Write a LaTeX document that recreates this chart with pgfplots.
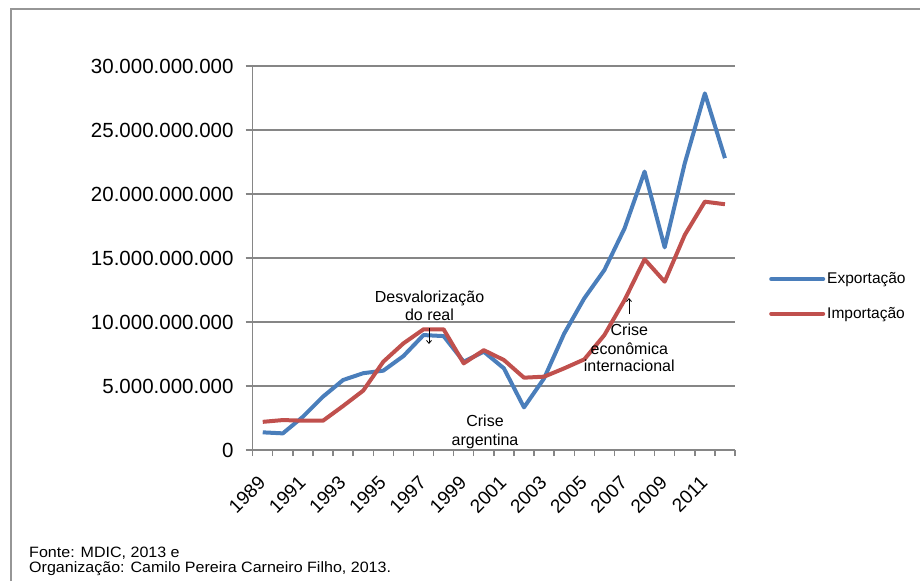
\documentclass[border=0pt]{standalone}
\usepackage{pgfplots}
\pgfplotsset{compat=1.18}
\usetikzlibrary{arrows.meta}
\usepackage{fontspec}
\setmainfont{Liberation Sans}
\definecolor{expblue}{RGB}{74,126,187}
\definecolor{impred}{RGB}{192,80,77}
\definecolor{gridgray}{RGB}{134,134,134}
\definecolor{framegray}{RGB}{150,150,150}
\begin{document}
\begin{tikzpicture}
\useasboundingbox (0,0) rectangle (920pt,-581pt);
\draw[framegray, line width=1.2pt] (11pt,-581pt) -- (11pt,-9pt) -- (920pt,-9pt);
\begin{axis}[
  at={(252.7pt,-450pt)}, anchor=south west,
  scale only axis, width=482.3pt, height=384pt,
  xmin=-0.5, xmax=23.5, ymin=0, ymax=30,
  axis x line*=bottom, axis y line*=left,
  axis line style={gridgray, line width=1.4pt},
  xtick={0,2,...,22},
  xticklabels={1989,1991,1993,1995,1997,1999,2001,2003,2005,2007,2009,2011},
  minor xtick={-0.5,0.5,...,23.5},
  major x tick style={draw=none},
  minor x tick style={gridgray, line width=1.4pt},
  minor tick length=6pt,
  tick align=outside,
  ytick={0,5,...,30},
  yticklabels={0,5.000.000.000,10.000.000.000,15.000.000.000,20.000.000.000,25.000.000.000,30.000.000.000},
  major tick length=7pt,
  y tick style={gridgray, line width=1.4pt},
  ymajorgrids, grid style={gridgray, line width=1.4pt},
  yticklabel style={anchor=east, inner sep=0pt, xshift=-12pt, font=\fontsize{20.5}{24}\selectfont},
  xticklabel style={rotate=45, anchor=north east, inner sep=0pt, xshift=-16.5pt, yshift=-8.6pt, font=\fontsize{19}{22}\selectfont},
  legend style={draw=none, fill=none, at={(1.0705,0.40)}, anchor=west, inner sep=0pt,
    font=\fontsize{15.5}{18}\selectfont, row sep=18pt},
  legend cell align=left,
  legend image code/.code={\draw[#1, line width=4pt, line cap=round] (0pt,0pt) -- (52pt,0pt);},
]
\addplot[expblue, line width=4pt, line join=round] coordinates {
(0,1.38) (1,1.30) (2,2.6) (3,4.17) (4,5.47) (5,6.0) (6,6.2) (7,7.34) (8,8.98) (9,8.9)
(10,6.9) (11,7.68) (12,6.38) (13,3.33) (14,5.6) (15,9.1) (16,11.85) (17,14.06) (18,17.3)
(19,21.75) (20,15.83) (21,22.4) (22,27.86) (23,22.8)};
\addlegendentry{Exportação}
\addplot[impred, line width=4pt, line join=round] coordinates {
(0,2.2) (1,2.34) (2,2.29) (3,2.29) (4,3.44) (5,4.64) (6,6.9) (7,8.33) (8,9.43) (9,9.43)
(10,6.77) (11,7.8) (12,7.03) (13,5.65) (14,5.73) (15,6.38) (16,7.08) (17,8.98) (18,11.7)
(19,14.9) (20,13.15) (21,16.8) (22,19.4) (23,19.2)};
\addlegendentry{Importação}
\end{axis}
\begin{scope}[every node/.style={inner sep=0pt, anchor=base, font=\fontsize{16}{18}\selectfont}]
\node at (429.5pt,-302.3pt) {Desvalorização};
\node at (429.5pt,-320pt) {do real};
\node at (485pt,-426pt) {Crise};
\node at (485pt,-445pt) {argentina};
\node at (629.3pt,-335pt) {Crise};
\node at (629.3pt,-354pt) {econômica};
\node at (629.3pt,-371.7pt) {internacional};
\end{scope}
\draw[black, line width=0.8pt, -{Straight Barb[length=3pt,width=5pt]}] (429pt,-328pt) -- (429pt,-344pt);
\draw[black, line width=0.8pt, -{Straight Barb[length=3pt,width=5pt]}] (629pt,-314pt) -- (629pt,-298pt);
\begin{scope}[every node/.style={inner sep=0pt, anchor=base west, xscale=1.07, font=\fontsize{15}{17}\selectfont}]
\node at (29pt,-557pt) {Fonte: MDIC, 2013 e};
\node at (29pt,-572pt) {Organização: Camilo Pereira Carneiro Filho, 2013.};
\end{scope}
\end{tikzpicture}
\end{document}
